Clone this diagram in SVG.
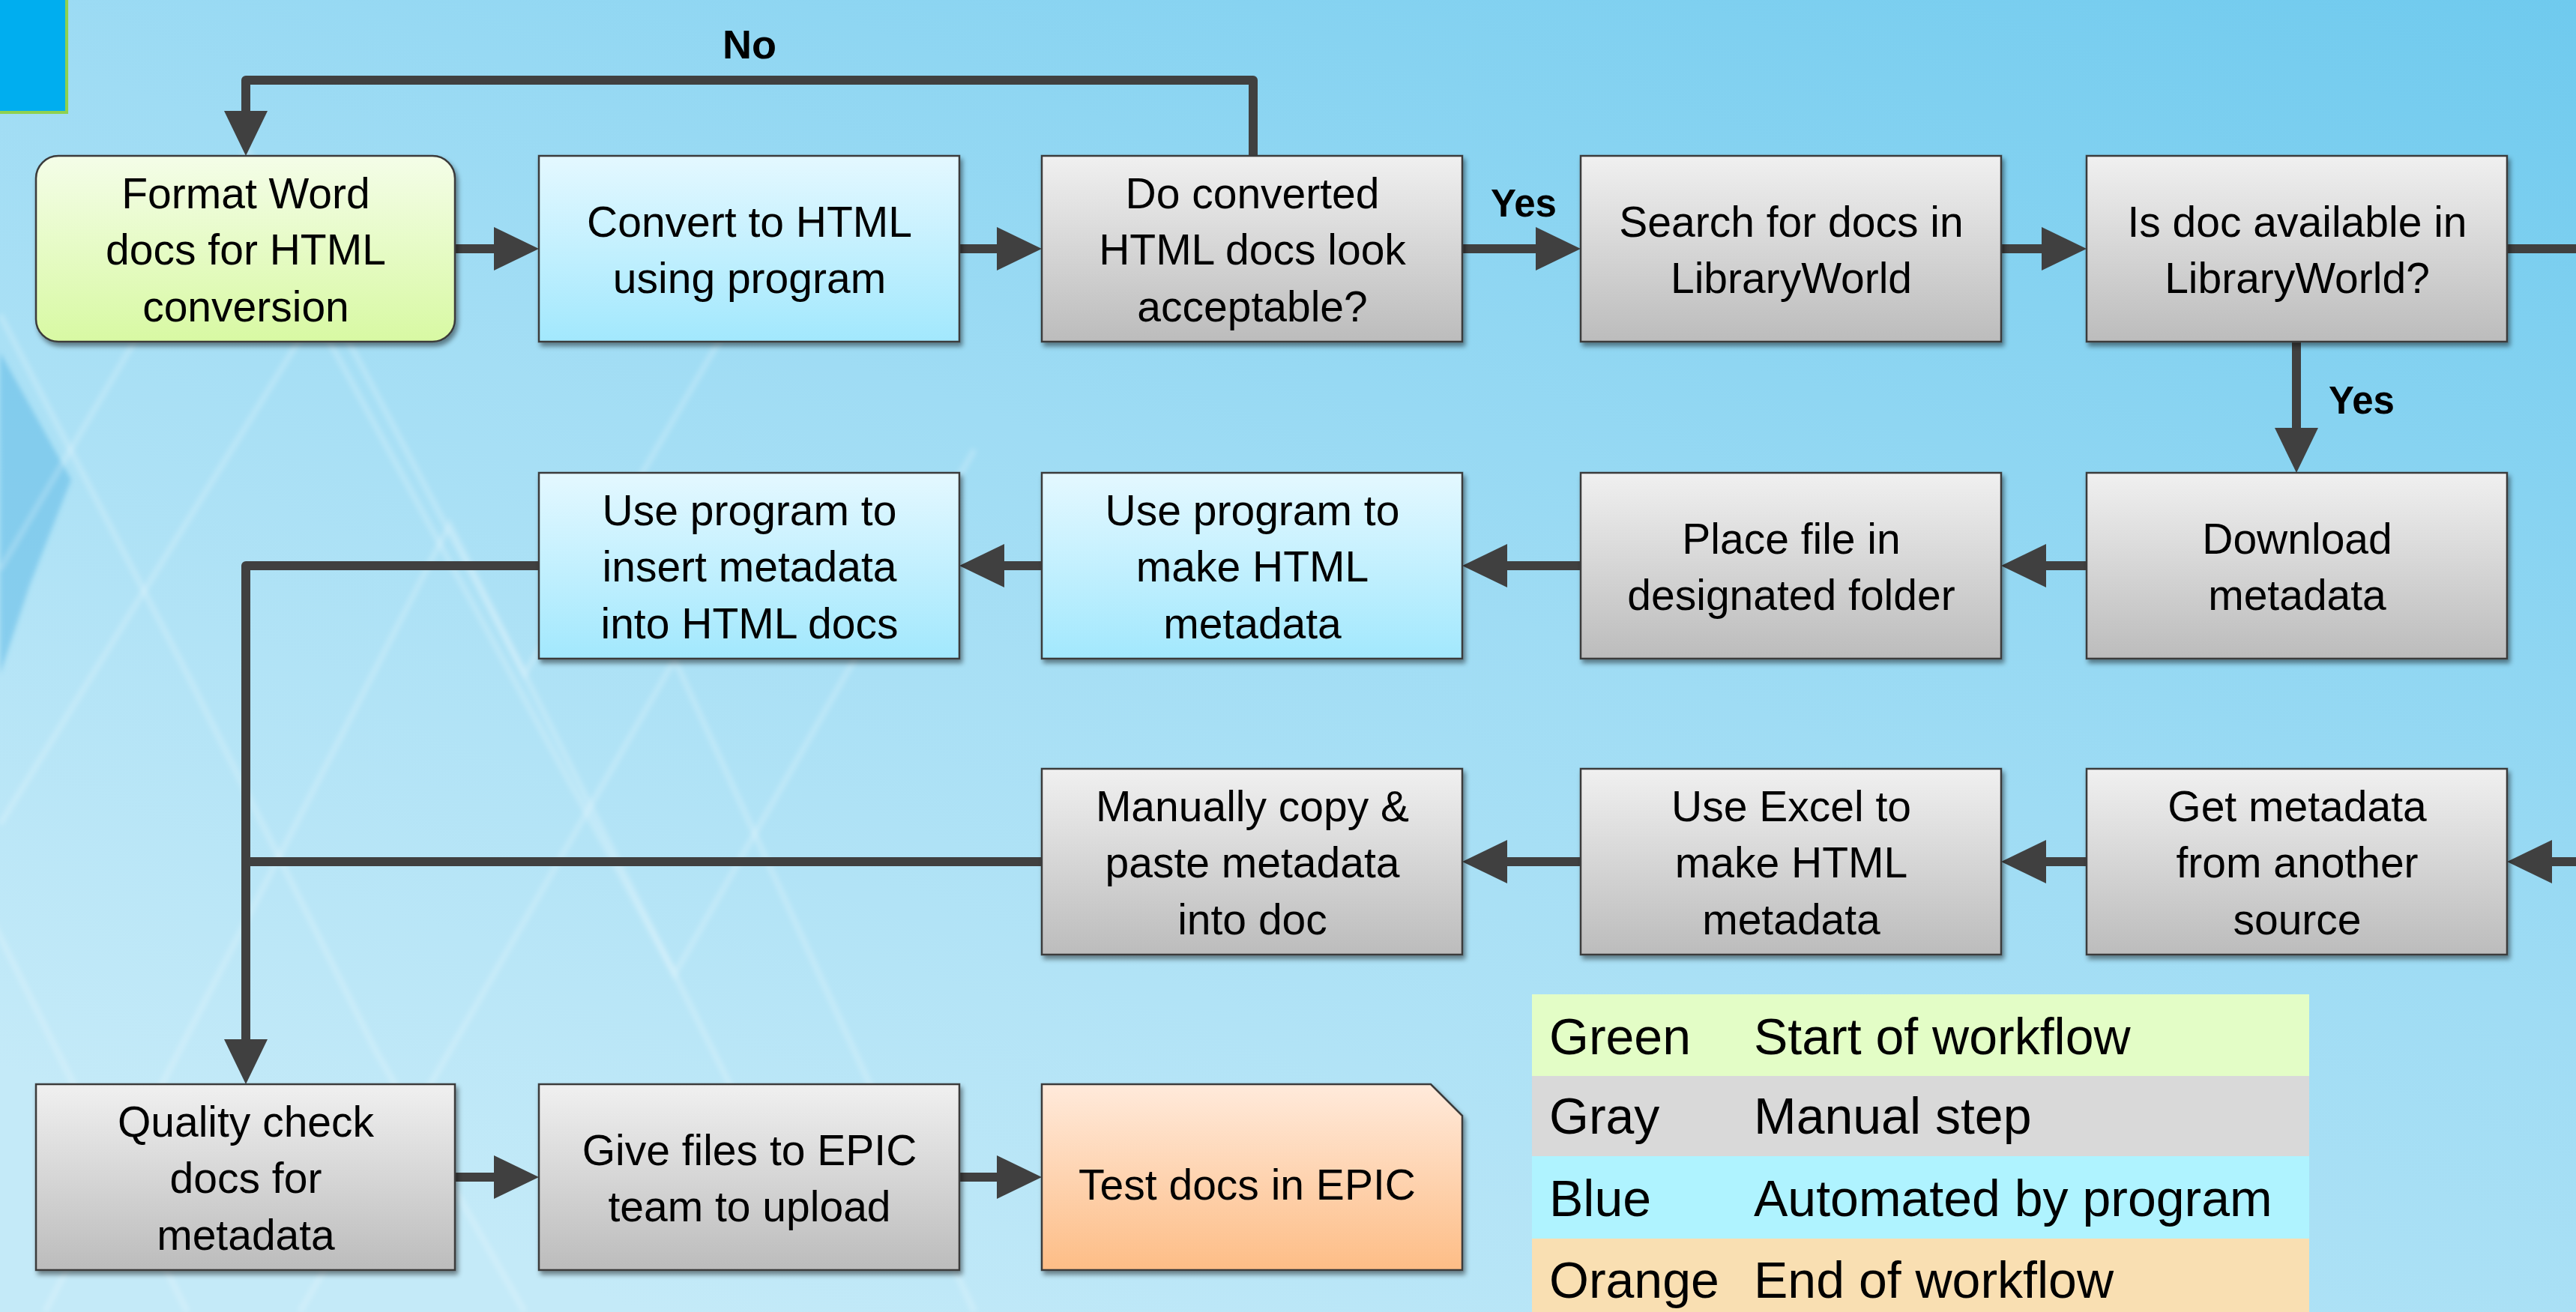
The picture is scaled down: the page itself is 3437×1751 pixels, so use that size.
<svg xmlns="http://www.w3.org/2000/svg" width="3437" height="1751" viewBox="0 0 3437 1751">
<defs>
<linearGradient id="bg" x1="1" y1="0" x2="0.25" y2="1">
<stop offset="0" stop-color="#6fcaee"/>
<stop offset="0.5" stop-color="#9fdcf4"/>
<stop offset="1" stop-color="#c4eaf8"/>
</linearGradient>
<linearGradient id="gGray" x1="0" y1="0" x2="0" y2="1">
<stop offset="0" stop-color="#f0f0f0"/>
<stop offset="1" stop-color="#bcbcbc"/>
</linearGradient>
<linearGradient id="gBlue" x1="0" y1="0" x2="0" y2="1">
<stop offset="0" stop-color="#e4f8ff"/>
<stop offset="1" stop-color="#a2e8fd"/>
</linearGradient>
<linearGradient id="gGreen" x1="0" y1="0" x2="0" y2="1">
<stop offset="0" stop-color="#f4fde8"/>
<stop offset="1" stop-color="#d8f9a3"/>
</linearGradient>
<linearGradient id="gOrange" x1="0" y1="0" x2="0" y2="1">
<stop offset="0" stop-color="#ffeadb"/>
<stop offset="1" stop-color="#fdbd86"/>
</linearGradient>
<filter id="sh" x="-5%" y="-5%" width="115%" height="120%">
<feDropShadow dx="3" dy="5" stdDeviation="3" flood-color="#000" flood-opacity="0.45"/>
</filter>
<filter id="soft" x="-5%" y="-5%" width="110%" height="110%">
<feGaussianBlur stdDeviation="3"/>
</filter>
<marker id="ah" markerUnits="userSpaceOnUse" markerWidth="60" markerHeight="58" viewBox="0 0 60 58" refX="4" refY="29" orient="auto">
<path d="M0,0 L60,29 L0,58 Z" fill="#404040"/>
</marker>
<style>
.box{stroke:#3a3a3a;stroke-width:2.5;filter:url(#sh)}
.gray{fill:url(#gGray)}
.blue{fill:url(#gBlue)}
.green{fill:url(#gGreen)}
.orange{fill:url(#gOrange)}
.t{font-family:"Liberation Sans",Arial,sans-serif;font-size:57px;fill:#000;text-anchor:middle}
.lbl{font-family:"Liberation Sans",Arial,sans-serif;font-weight:bold;fill:#000;text-anchor:middle}
.lg{font-family:"Liberation Sans",Arial,sans-serif;font-size:68px;fill:#000}
.con{fill:none;stroke:#404040;stroke-width:12;stroke-linejoin:round}
.deco{fill:none;stroke:#ffffff;stroke-opacity:0.2;stroke-width:8}
</style>
</defs>

<g id="background">
<rect x="0" y="0" width="3437" height="1751" fill="url(#bg)"/>
<polygon points="0,470 95,640 40,780 0,900" fill="#4fb2e2" fill-opacity="0.45" filter="url(#soft)"/>
<g filter="url(#soft)">
<path class="deco" d="M0,760 L330,200 L700,900 L1050,300"/>
<path class="deco" d="M0,1100 L420,420 L900,1300 L1300,600"/>
<path class="deco" d="M60,1751 L600,700 L1050,1600"/>
<path class="deco" d="M250,1751 L-50,1150"/>
<path class="deco" d="M400,1751 L900,880 L1300,1751"/>
<path class="deco" d="M0,420 L250,900 L500,1400 L700,1751"/>
</g>
<rect x="-10" y="-10" width="99" height="160" fill="#00aeef" stroke="#8fd14f" stroke-width="4"/>
</g>

<g id="connectors">
<path class="con" d="M607,332 H663" marker-end="url(#ah)"/>
<path class="con" d="M1280,332 H1334" marker-end="url(#ah)"/>
<path class="con" d="M1951,332 H2053" marker-end="url(#ah)"/>
<path class="con" d="M2670,332 H2728" marker-end="url(#ah)"/>
<path class="con" d="M3345,332 H3437"/>
<path class="con" d="M3064,456 V575" marker-end="url(#ah)"/>
<path class="con" d="M1672,208 V107 H328 V152" marker-end="url(#ah)"/>
<path class="con" d="M2784,755 H2726" marker-end="url(#ah)"/>
<path class="con" d="M2109,755 H2007" marker-end="url(#ah)"/>
<path class="con" d="M1390,755 H1336" marker-end="url(#ah)"/>
<path class="con" d="M719,755 H328 V1391" marker-end="url(#ah)"/>
<path class="con" d="M3437,1150 H3401" marker-end="url(#ah)"/>
<path class="con" d="M2784,1150 H2726" marker-end="url(#ah)"/>
<path class="con" d="M2109,1150 H2007" marker-end="url(#ah)"/>
<path class="con" d="M1390,1150 H328"/>
<path class="con" d="M607,1571 H663" marker-end="url(#ah)"/>
<path class="con" d="M1280,1571 H1334" marker-end="url(#ah)"/>
<text class="lbl" font-size="54" x="1000" y="78">No</text>
<text class="lbl" font-size="51" x="2033" y="289">Yes</text>
<text class="lbl" font-size="51" x="3151" y="552">Yes</text>
</g>

<g id="n-format">
<rect class="box green" x="48" y="208" width="559" height="248" rx="30"/>
<text class="t"><tspan x="328" y="278">Format Word</tspan><tspan x="328" y="353">docs for HTML</tspan><tspan x="328" y="429">conversion</tspan></text>
</g>
<g id="n-convert">
<rect class="box blue" x="719" y="208" width="561" height="248"/>
<text class="t"><tspan x="1000" y="316">Convert to HTML</tspan><tspan x="1000" y="391">using program</tspan></text>
</g>
<g id="n-acceptable">
<rect class="box gray" x="1390" y="208" width="561" height="248"/>
<text class="t"><tspan x="1671" y="278">Do converted</tspan><tspan x="1671" y="353">HTML docs look</tspan><tspan x="1671" y="429">acceptable?</tspan></text>
</g>
<g id="n-search">
<rect class="box gray" x="2109" y="208" width="561" height="248"/>
<text class="t"><tspan x="2390" y="316">Search for docs in</tspan><tspan x="2390" y="391">LibraryWorld</tspan></text>
</g>
<g id="n-available">
<rect class="box gray" x="2784" y="208" width="561" height="248"/>
<text class="t"><tspan x="3065" y="316">Is doc available in</tspan><tspan x="3065" y="391">LibraryWorld?</tspan></text>
</g>

<g id="n-insert">
<rect class="box blue" x="719" y="631" width="561" height="248"/>
<text class="t"><tspan x="1000" y="701">Use program to</tspan><tspan x="1000" y="776">insert metadata</tspan><tspan x="1000" y="852">into HTML docs</tspan></text>
</g>
<g id="n-make">
<rect class="box blue" x="1390" y="631" width="561" height="248"/>
<text class="t"><tspan x="1671" y="701">Use program to</tspan><tspan x="1671" y="776">make HTML</tspan><tspan x="1671" y="852">metadata</tspan></text>
</g>
<g id="n-place">
<rect class="box gray" x="2109" y="631" width="561" height="248"/>
<text class="t"><tspan x="2390" y="739">Place file in</tspan><tspan x="2390" y="814">designated folder</tspan></text>
</g>
<g id="n-download">
<rect class="box gray" x="2784" y="631" width="561" height="248"/>
<text class="t"><tspan x="3065" y="739">Download</tspan><tspan x="3065" y="814">metadata</tspan></text>
</g>

<g id="n-manual">
<rect class="box gray" x="1390" y="1026" width="561" height="248"/>
<text class="t"><tspan x="1671" y="1096">Manually copy &amp;</tspan><tspan x="1671" y="1171">paste metadata</tspan><tspan x="1671" y="1247">into doc</tspan></text>
</g>
<g id="n-excel">
<rect class="box gray" x="2109" y="1026" width="561" height="248"/>
<text class="t"><tspan x="2390" y="1096">Use Excel to</tspan><tspan x="2390" y="1171">make HTML</tspan><tspan x="2390" y="1247">metadata</tspan></text>
</g>
<g id="n-another">
<rect class="box gray" x="2784" y="1026" width="561" height="248"/>
<text class="t"><tspan x="3065" y="1096">Get metadata</tspan><tspan x="3065" y="1171">from another</tspan><tspan x="3065" y="1247">source</tspan></text>
</g>

<g id="n-quality">
<rect class="box gray" x="48" y="1447" width="559" height="248"/>
<text class="t"><tspan x="328" y="1517">Quality check</tspan><tspan x="328" y="1592">docs for</tspan><tspan x="328" y="1668">metadata</tspan></text>
</g>
<g id="n-give">
<rect class="box gray" x="719" y="1447" width="561" height="248"/>
<text class="t"><tspan x="1000" y="1555">Give files to EPIC</tspan><tspan x="1000" y="1630">team to upload</tspan></text>
</g>
<g id="n-test">
<path class="box orange" d="M1390,1447 H1909 L1951,1489 V1695 H1390 Z"/>
<text class="t" x="1664" y="1601">Test docs in EPIC</text>
</g>

<g id="legend">
<rect x="2044" y="1327" width="1037" height="109" fill="#e3fdc6"/>
<rect x="2044" y="1436" width="1037" height="107" fill="#d9d9d9"/>
<rect x="2044" y="1543" width="1037" height="110" fill="#aff3ff"/>
<rect x="2044" y="1653" width="1037" height="110" fill="#f9dfb2"/>
<text class="lg" x="2067" y="1407">Green</text>
<text class="lg" x="2340" y="1407">Start of workflow</text>
<text class="lg" x="2067" y="1513">Gray</text>
<text class="lg" x="2340" y="1513">Manual step</text>
<text class="lg" x="2067" y="1623">Blue</text>
<text class="lg" x="2340" y="1623">Automated by program</text>
<text class="lg" x="2067" y="1732">Orange</text>
<text class="lg" x="2340" y="1732">End of workflow</text>
</g>
</svg>
